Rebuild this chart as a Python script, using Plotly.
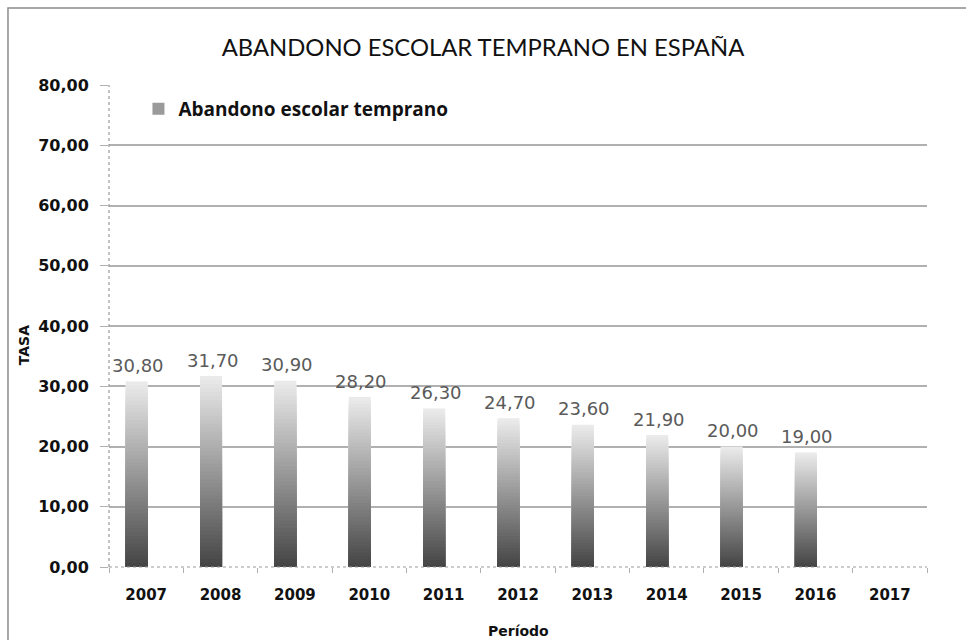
import plotly.graph_objects as go

years = ["2007", "2008", "2009", "2010", "2011", "2012", "2013", "2014", "2015", "2016", "2017"]
values = [30.80, 31.70, 30.90, 28.20, 26.30, 24.70, 23.60, 21.90, 20.00, 19.00, None]
series_name = "Abandono escolar temprano"
title_text = "ABANDONO ESCOLAR TEMPRANO EN ESPAÑA"
y_title = "TASA"
x_title = "Período"

# gradient: dark at bottom, light at top
N = 48
dark = (0x44, 0x44, 0x44)
light = (0xec, 0xec, 0xec)

def lerp(a, b, t):
    return "rgb(%d,%d,%d)" % tuple(round(a[j] + (b[j] - a[j]) * t) for j in range(3))

seg_x, seg_y, seg_c = [], [], []
for k in range(N - 1, -1, -1):
    t = (k + 0.5) / N
    for yr, v in zip(years, values):
        if v is None:
            continue
        seg_x.append(yr)
        seg_y.append(v * (k + 1) / N)
        seg_c.append(lerp(dark, light, t))

fig = go.Figure()
fig.add_trace(go.Bar(
    x=seg_x, y=seg_y, marker=dict(color=seg_c, line=dict(width=0)),
    width=0.296, offset=-0.276, showlegend=False, hoverinfo="skip",
))
fig.add_trace(go.Bar(
    x=[years[-1]], y=[0], name=series_name, marker=dict(color="#9a9a9a", line=dict(width=0)),
    width=0.0, showlegend=True, hoverinfo="skip",
))

annotations = []
for i, v in enumerate(values):
    if v is None:
        continue
    annotations.append(dict(
        x=i, y=v, xref="x", yref="y", text=("%.2f" % v).replace(".", ","),
        showarrow=False, yanchor="middle", xanchor="center", yshift=16, xshift=-8,
        font=dict(family="DejaVu Sans", size=18, color="#5a5a5a"),
    ))

annotations.append(dict(
    x=-0.104, y=0.46, xref="paper", yref="paper", text=y_title, textangle=-90,
    showarrow=False, xanchor="center", yanchor="middle",
    font=dict(family="DejaVu Sans", size=14, color="#111", weight="bold"),
))
annotations.append(dict(
    x=0.5, y=0, xref="paper", yref="paper", text=x_title, showarrow=False,
    xanchor="center", yanchor="top", yshift=-54,
    font=dict(family="DejaVu Sans", size=14, color="#111", weight="bold"),
))

shapes = [
    # dotted axis lines
    dict(type="line", xref="paper", yref="paper", x0=0, x1=0, y0=0, y1=1,
         line=dict(color="#9a9a9a", width=1.2, dash="dot"), layer="above"),
    dict(type="line", xref="paper", yref="paper", x0=0, x1=1, y0=0, y1=0,
         line=dict(color="#9a9a9a", width=1.2, dash="dot"), layer="above"),
    # chart border
    dict(type="rect", xref="paper", yref="paper", x0=-0.1235, x1=1.2, y0=-0.3, y1=1.16,
         line=dict(color="#8c8c8c", width=1.5), fillcolor="rgba(0,0,0,0)", layer="above"),
]

fig.update_layout(
    width=966, height=640,
    margin=dict(l=109, r=39, t=85, b=73),
    paper_bgcolor="white", plot_bgcolor="white",
    separators=",.",
    barmode="overlay",
    title=dict(text=title_text, x=0.5, xanchor="center", y=0.926, yanchor="middle",
               font=dict(family="Lato", size=23.8, color="#111")),
    showlegend=True,
    legend=dict(x=0.036, y=0.99, xanchor="left", yanchor="top", bgcolor="rgba(0,0,0,0)",
                font=dict(family="Open Sans", size=19, color="#111", weight="bold"),
                itemwidth=30),
    annotations=annotations,
    shapes=shapes,
)
fig.update_yaxes(
    range=[0, 80], dtick=10, tickformat=".2f", showgrid=True, gridcolor="#b0b0b0",
    gridwidth=1.5, zeroline=True, zerolinecolor="white", zerolinewidth=2,
    showline=False, ticks="outside", ticklen=8, tickcolor="#b0b0b0",
    ticklabelstandoff=8,
    tickfont=dict(family="DejaVu Sans", size=16, color="#111", weight="bold"),
    fixedrange=True,
)
fig.update_xaxes(
    type="category", categoryorder="array", categoryarray=years, range=[-0.5, len(years) - 0.5],
    showgrid=False, zeroline=False, showline=False, ticks="outside", ticklen=5,
    tickson="boundaries", tickcolor="#b0b0b0", tickangle=0, ticklabelstandoff=17,
    tickfont=dict(family="DejaVu Sans", size=15, color="#111", weight="bold"),
    fixedrange=True,
)

fig.write_html("out.html", config={"displayModeBar": False},
               post_script="document.body.style.margin='0px';document.body.style.overflow='hidden';")
